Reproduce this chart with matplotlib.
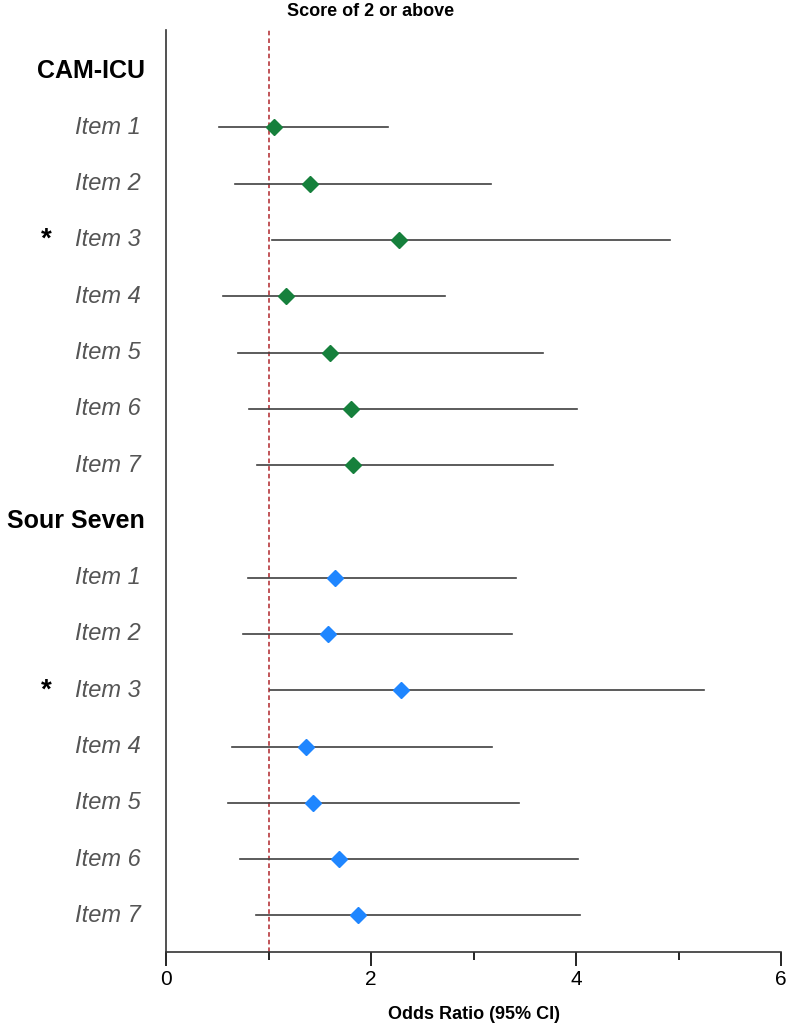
import matplotlib.pyplot as plt
from matplotlib.transforms import blended_transform_factory

plt.rcParams['font.family'] = ['Liberation Sans', 'DejaVu Sans']

# odds ratios with 95% CI
items = ["Item 1", "Item 2", "Item 3", "Item 4", "Item 5", "Item 6", "Item 7"]
significant = [False, False, True, False, False, False, False]

cam_or = [1.05, 1.40, 2.27, 1.17, 1.60, 1.80, 1.82]
cam_lo = [0.52, 0.67, 1.03, 0.56, 0.70, 0.81, 0.89]
cam_hi = [2.17, 3.17, 4.92, 2.72, 3.68, 4.01, 3.78]

sour_or = [1.65, 1.58, 2.29, 1.37, 1.43, 1.69, 1.87]
sour_lo = [0.80, 0.75, 1.01, 0.64, 0.60, 0.72, 0.88]
sour_hi = [3.41, 3.38, 5.25, 3.18, 3.44, 4.02, 4.04]

groups = [
    ("CAM-ICU", cam_or, cam_lo, cam_hi, "#16803c"),
    ("Sour Seven", sour_or, sour_lo, sour_hi, "#1f86ff"),
]


def main():
    fig = plt.figure(figsize=(7.87, 10.30), dpi=100)
    ax = fig.add_axes([166 / 787, 78 / 1030, 615 / 787, 922 / 1030])
    trans = blended_transform_factory(ax.transAxes, ax.transData)

    row = 0
    for name, orv, lo, hi, col in groups:
        ax.text(-21 / 615, row, name, transform=trans, ha='right', va='center',
                fontsize=18, fontweight='bold', color='black')
        row += 1
        for i in range(len(items)):
            ax.plot([lo[i], hi[i]], [row, row], color='#404040', lw=1.2, zorder=2)
            ax.plot(orv[i], row, marker='D', ms=8, color=col, zorder=3)
            ax.text(-25 / 615, row, items[i], transform=trans, ha='right', va='center',
                    fontsize=17, fontstyle='italic', color='#555555')
            if significant[i]:
                ax.text(-120 / 615, row, "*", transform=trans, ha='center', va='center',
                        fontsize=20, fontweight='bold', color='black')
            row += 1

    ax.axvline(1, color='#b0262b', lw=1.1, ls=(0, (3, 2)), zorder=1)

    ax.set_xlim(0, 6)
    ax.set_ylim(15.65, -0.73)
    ax.set_xticks([0, 2, 4, 6])
    ax.set_xticks([1, 3, 5], minor=True)
    ax.tick_params(axis='x', which='major', length=10, width=1.2, labelsize=15, pad=3)
    ax.tick_params(axis='x', which='minor', length=6, width=1.2)
    ax.set_yticks([])
    for s in ['top', 'right']:
        ax.spines[s].set_visible(False)
    for s in ['left', 'bottom']:
        ax.spines[s].set_linewidth(1.2)
        ax.spines[s].set_color('#333333')

    ax.set_xlabel("Odds Ratio (95% CI)", fontsize=13, fontweight='bold', labelpad=12)
    ax.annotate("Score of 2 or above", xy=(2, 1), xycoords=('data', 'axes fraction'),
                xytext=(0, 13), textcoords='offset points', ha='center', va='center',
                fontsize=13, fontweight='bold')

    fig.savefig("out.png", dpi=100)


if __name__ == "__main__":
    main()
